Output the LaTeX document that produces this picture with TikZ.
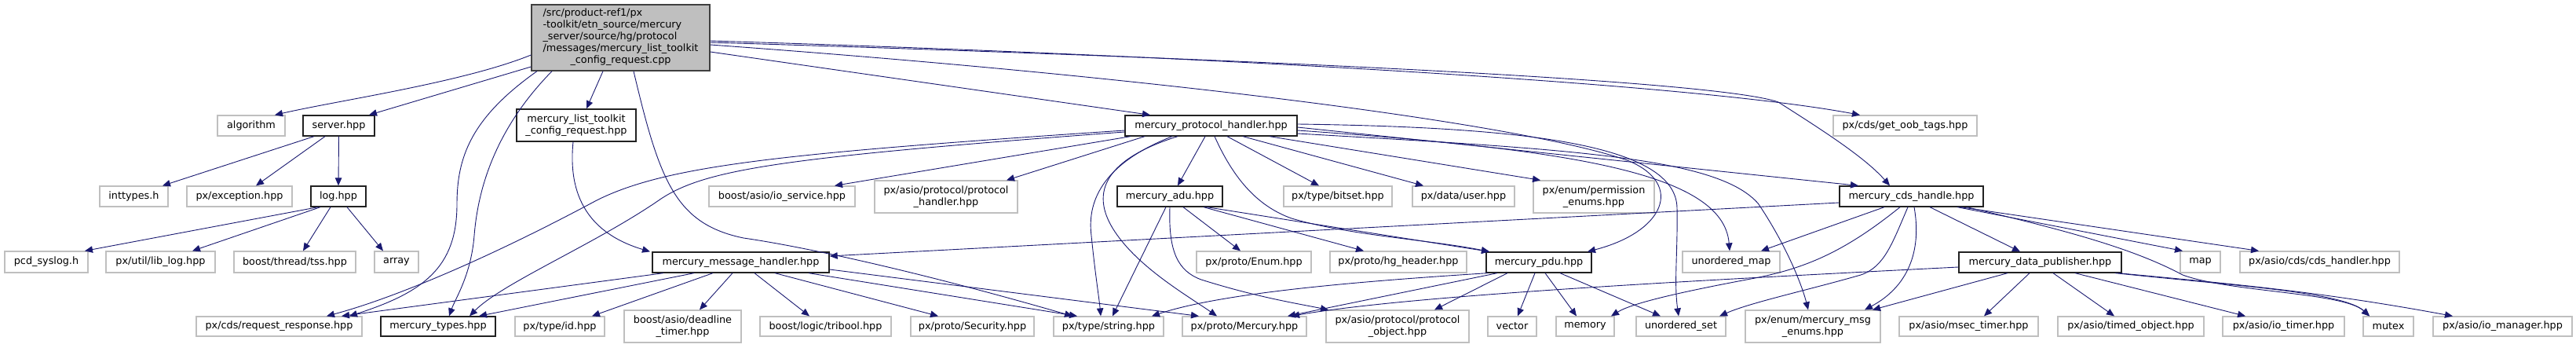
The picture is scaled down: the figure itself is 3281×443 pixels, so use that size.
\documentclass[tikz,border=0pt]{standalone}
\usepackage{fontspec}
\setmainfont{DejaVu Sans}
\usetikzlibrary{arrows.meta}
\definecolor{edgec}{HTML}{191970}
\definecolor{gborder}{HTML}{BFBFBF}
\definecolor{mainfill}{HTML}{BFBFBF}
\definecolor{kborder}{HTML}{222222}
\tikzset{
  nodebase/.style={rectangle, inner sep=0pt, align=center, font=\fontsize{12.8}{15}\selectfont},
  gbox/.style={nodebase, draw=gborder, line width=1.2pt, fill=white},
  kbox/.style={nodebase, draw=kborder, line width=1.3pt, fill=white},
  mainbox/.style={nodebase, draw=black!75, line width=1.3pt, fill=mainfill},
  dep/.style={draw=edgec, line width=0.9pt, -{Triangle[length=10pt,width=8.5pt]}},
}
\newcommand\mknode[7]{\node[#6, minimum width={(#3-#2)*1pt}, minimum height={(#5-#4)*1pt}] (#1) at ({(#2+#3)/2},{(#4+#5)/2}) {#7};}
\begin{document}
\begin{tikzpicture}[x=1pt,y=-1pt]
\useasboundingbox (0,0) rectangle (3281,443);
% nodes
\mknode{main}{677}{904}{6}{90}{mainbox}{\begin{tabular}{@{}l@{}}/src/product-ref1/px\\-toolkit/etn\_source/mercury\\\_server/source/hg/protocol\\/messages/mercury\_list\_toolkit\\\multicolumn{1}{@{}c@{}}{\_config\_request.cpp}\end{tabular}}
\mknode{algorithm}{277}{363}{147}{173}{gbox}{algorithm}
\mknode{server}{386}{477}{147}{173}{kbox}{server.hpp}
\mknode{listtk}{658}{810}{139}{180}{kbox}{mercury\_list\_toolkit\\\_config\_request.hpp}
\mknode{protoh}{1433}{1652}{147}{173}{kbox}{mercury\_protocol\_handler.hpp}
\mknode{getoob}{2335}{2518}{147}{173}{gbox}{px/cds/get\_oob\_tags.hpp}
\mknode{inttypes}{127}{214}{237}{263}{gbox}{inttypes.h}
\mknode{exception}{238}{372}{237}{263}{gbox}{px/exception.hpp}
\mknode{log}{396}{466}{237}{263}{kbox}{log.hpp}
\mknode{ioservice}{903}{1089}{237}{263}{gbox}{boost/asio/io\_service.hpp}
\mknode{asioprotoh}{1114}{1296}{230}{271}{gbox}{px/asio/protocol/protocol\\\_handler.hpp}
\mknode{adu}{1423}{1557}{237}{263}{kbox}{mercury\_adu.hpp}
\mknode{bitset}{1635}{1773}{237}{263}{gbox}{px/type/bitset.hpp}
\mknode{user}{1799}{1929}{237}{263}{gbox}{px/data/user.hpp}
\mknode{perm}{1953}{2107}{230}{271}{gbox}{px/enum/permission\\\_enums.hpp}
\mknode{cdsh}{2343}{2526}{237}{263}{kbox}{mercury\_cds\_handle.hpp}
\mknode{pcd}{6}{112}{320}{347}{gbox}{pcd\_syslog.h}
\mknode{liblog}{135}{274}{320}{347}{gbox}{px/util/lib\_log.hpp}
\mknode{tss}{298}{453}{320}{347}{gbox}{boost/thread/tss.hpp}
\mknode{array}{477}{533}{320}{347}{gbox}{array}
\mknode{msgh}{831}{1056}{321}{347}{kbox}{mercury\_message\_handler.hpp}
\mknode{enum}{1524}{1670}{320}{347}{gbox}{px/proto/Enum.hpp}
\mknode{hgh}{1694}{1868}{320}{347}{gbox}{px/proto/hg\_header.hpp}
\mknode{pdu}{1893}{2027}{321}{347}{kbox}{mercury\_pdu.hpp}
\mknode{umap}{2143}{2267}{320}{347}{gbox}{unordered\_map}
\mknode{datap}{2495}{2702}{321}{347}{kbox}{mercury\_data\_publisher.hpp}
\mknode{map}{2777}{2828}{320}{347}{gbox}{map}
\mknode{cdshandler}{2853}{3056}{320}{347}{gbox}{px/asio/cds/cds\_handler.hpp}
\mknode{reqresp}{250}{461}{403}{428}{gbox}{px/cds/request\_response.hpp}
\mknode{types}{485}{631}{403}{428}{kbox}{mercury\_types.hpp}
\mknode{id}{656}{770}{403}{428}{gbox}{px/type/id.hpp}
\mknode{deadline}{795}{944}{395}{436}{gbox}{boost/asio/deadline\\\_timer.hpp}
\mknode{tribool}{968}{1135}{403}{428}{gbox}{boost/logic/tribool.hpp}
\mknode{security}{1160}{1317}{403}{428}{gbox}{px/proto/Security.hpp}
\mknode{string}{1342}{1482}{403}{428}{gbox}{px/type/string.hpp}
\mknode{mercury}{1506}{1664}{403}{428}{gbox}{px/proto/Mercury.hpp}
\mknode{protoobj}{1689}{1871}{395}{436}{gbox}{px/asio/protocol/protocol\\\_object.hpp}
\mknode{vector}{1895}{1957}{403}{428}{gbox}{vector}
\mknode{memory}{1982}{2056}{403}{428}{gbox}{memory}
\mknode{uset}{2084}{2198}{403}{428}{gbox}{unordered\_set}
\mknode{msgenums}{2223}{2395}{395}{436}{gbox}{px/enum/mercury\_msg\\\_enums.hpp}
\mknode{msec}{2419}{2596}{403}{428}{gbox}{px/asio/msec\_timer.hpp}
\mknode{timed}{2621}{2807}{403}{428}{gbox}{px/asio/timed\_object.hpp}
\mknode{iotimer}{2831}{2986}{403}{428}{gbox}{px/asio/io\_timer.hpp}
\mknode{mutex}{3010}{3074}{403}{428}{gbox}{mutex}
\mknode{iomgr}{3099}{3276}{403}{428}{gbox}{px/asio/io\_manager.hpp}
% ---- edges ----
% main
\draw[dep] (main.west |- 0,70) .. controls (590,105) and (430,128) .. (350,0 |- algorithm.north);
\draw[dep] (main.west |- 0,85) -- (470,0 |- server.north);
\draw[dep] (684,0 |- main.south) .. controls (600,150) and (582,200) .. (582,260) .. controls (582,340) and (540,372) .. (445,0 |- reqresp.north);
\draw[dep] (703,0 |- main.south) .. controls (625,170) and (608,250) .. (604,300) .. controls (600,350) and (580,380) .. (572,0 |- types.north);
\draw[dep] (768,0 |- main.south) -- (747,0 |- listtk.north);
\draw[dep] (807,0 |- main.south) .. controls (840,230) and (860,285) .. (947,303) .. controls (1010,312) and (1150,340) .. (1366,0 |- string.north);
\draw[dep] (main.east |- 0,66) -- (1465,0 |- protoh.north);
\draw[dep] (main.east |- 0,52) .. controls (1500,70) and (2150,105) .. (2369,0 |- getoob.north);
\draw[dep] (main.east |- 0,54) .. controls (1500,72) and (2180,100) .. (2265,130) .. controls (2320,165) and (2375,200) .. (2407,0 |- cdsh.north);
\draw[dep] (main.east |- 0,57) .. controls (1500,100) and (1950,160) .. (2075,205) .. controls (2145,235) and (2120,295) .. (2022,0 |- pdu.north);
% server, log
\draw[dep] (400,0 |- server.south) -- (207,0 |- inttypes.north);
\draw[dep] (414,0 |- server.south) -- (326,0 |- exception.north);
\draw[dep] (server.south) -- (log.north);
\draw[dep] (405,0 |- log.south) -- (108,0 |- pcd.north);
\draw[dep] (408,0 |- log.south) -- (245,0 |- liblog.north);
\draw[dep] (421,0 |- log.south) -- (386,0 |- tss.north);
\draw[dep] (442,0 |- log.south) -- (488,0 |- array.north);
% list toolkit
\draw[dep] (730,0 |- listtk.south) .. controls (722,260) and (760,300) .. (828,0 |- msgh.north);
% protocol handler
\draw[dep] (protoh.west |- 0,166) .. controls (1000,195) and (850,210) .. (760,255) .. controls (620,330) and (500,380) .. (416,0 |- reqresp.north);
\draw[dep] (protoh.west |- 0,168) .. controls (1000,200) and (900,215) .. (842,253) .. controls (760,310) and (640,360) .. (598,0 |- types.north);
\draw[dep] (1440,0 |- protoh.south) -- (1063,0 |- ioservice.north);
\draw[dep] (1458,0 |- protoh.south) -- (1282,0 |- asioprotoh.north);
\draw[dep] (1535,0 |- protoh.south) -- (1500,0 |- adu.north);
\draw[dep] (1493,0 |- protoh.south) .. controls (1400,210) and (1385,260) .. (1390,300) .. controls (1395,350) and (1400,380) .. (1402,0 |- string.north);
\draw[dep] (1500,0 |- protoh.south) .. controls (1400,205) and (1390,250) .. (1420,295) .. controls (1450,340) and (1510,375) .. (1550,0 |- mercury.north);
\draw[dep] (1547,0 |- protoh.south) .. controls (1570,225) and (1600,262) .. (1645,278) .. controls (1720,300) and (1820,305) .. (1897,0 |- pdu.north);
\draw[dep] (1563,0 |- protoh.south) -- (1680,0 |- bitset.north);
\draw[dep] (1583,0 |- protoh.south) -- (1813,0 |- user.north);
\draw[dep] (1617,0 |- protoh.south) -- (1962,0 |- perm.north);
\draw[dep] (protoh.east |- 0,162) -- (2367,0 |- cdsh.north);
\draw[dep] (protoh.east |- 0,166) .. controls (2000,190) and (2195,220) .. (2203,0 |- umap.north);
\draw[dep] (protoh.east |- 0,158) .. controls (1950,162) and (2135,185) .. (2136,265) .. controls (2137,320) and (2132,360) .. (2138,0 |- uset.north);
\draw[dep] (protoh.east |- 0,170) .. controls (2000,190) and (2190,200) .. (2240,260) .. controls (2280,320) and (2297,370) .. (2303,0 |- msgenums.north);
% adu
\draw[dep] (1485,0 |- adu.south) -- (1417,0 |- string.north);
\draw[dep] (1490,0 |- adu.south) .. controls (1488,320) and (1500,345) .. (1530,356) .. controls (1600,378) and (1650,386) .. (1692,0 |- protoobj.north);
\draw[dep] (1507,0 |- adu.south) -- (1580,0 |- enum.north);
\draw[dep] (1533,0 |- adu.south) -- (1737,0 |- hgh.north);
\draw[dep] (1537,0 |- adu.south) -- (1897,0 |- pdu.north);
% message handler
\draw[dep] (845,0 |- msgh.south) -- (435,0 |- reqresp.north);
\draw[dep] (884,0 |- msgh.south) -- (610,0 |- types.north);
\draw[dep] (908,0 |- msgh.south) -- (754,0 |- id.north);
\draw[dep] (933,0 |- msgh.south) -- (891,0 |- deadline.north);
\draw[dep] (961,0 |- msgh.south) -- (1031,0 |- tribool.north);
\draw[dep] (987,0 |- msgh.south) -- (1195,0 |- security.north);
\draw[dep] (1030,0 |- msgh.south) -- (1372,0 |- string.north);
\draw[dep] (msgh.east |- 0,343) -- (1527,0 |- mercury.north);
% cds handle
\draw[dep] (cdsh.west |- 0,258) -- (msgh.east |- 0,326);
\draw[dep] (2400,0 |- cdsh.south) -- (2243,0 |- umap.north);
\draw[dep] (2420,0 |- cdsh.south) .. controls (2350,320) and (2300,342) .. (2230,355) .. controls (2150,370) and (2080,385) .. (2052,0 |- memory.north);
\draw[dep] (2430,0 |- cdsh.south) .. controls (2410,310) and (2400,340) .. (2370,350) .. controls (2300,370) and (2230,385) .. (2190,0 |- uset.north);
\draw[dep] (2438,0 |- cdsh.south) .. controls (2448,320) and (2430,365) .. (2375,0 |- msgenums.north);
\draw[dep] (2458,0 |- cdsh.south) -- (2573,0 |- datap.north);
\draw[dep] (2493,0 |- cdsh.south) -- (2780,0 |- map.north);
\draw[dep] (2497,0 |- cdsh.south) -- (2877,0 |- cdshandler.north);
\draw[dep] (2505,0 |- cdsh.south) .. controls (2640,295) and (2720,318) .. (2780,350) .. controls (2840,372) and (2985,372) .. (3018,0 |- mutex.north);
% data publisher
\draw[dep] (datap.west |- 0,340) .. controls (2200,355) and (1800,375) .. (1645,0 |- mercury.north);
\draw[dep] (2557,0 |- datap.south) -- (2385,0 |- msgenums.north);
\draw[dep] (2585,0 |- datap.south) -- (2527,0 |- msec.north);
\draw[dep] (2615,0 |- datap.south) -- (2693,0 |- timed.north);
\draw[dep] (2643,0 |- datap.south) -- (2860,0 |- iotimer.north);
\draw[dep] (2698,0 |- datap.south) .. controls (2850,362) and (2960,372) .. (3124,0 |- iomgr.north);
\draw[dep] (2694,0 |- datap.south) .. controls (2850,364) and (2985,372) .. (3018,0 |- mutex.north);
% pdu
\draw[dep] (1895,0 |- pdu.south) .. controls (1700,360) and (1550,375) .. (1467,0 |- string.north);
\draw[dep] (1907,0 |- pdu.south) -- (1640,0 |- mercury.north);
\draw[dep] (1920,0 |- pdu.south) -- (1827,0 |- protoobj.north);
\draw[dep] (1955,0 |- pdu.south) -- (1933,0 |- vector.north);
\draw[dep] (1968,0 |- pdu.south) -- (2008,0 |- memory.north);
\draw[dep] (1987,0 |- pdu.south) -- (2115,0 |- uset.north);
\end{tikzpicture}
\end{document}
